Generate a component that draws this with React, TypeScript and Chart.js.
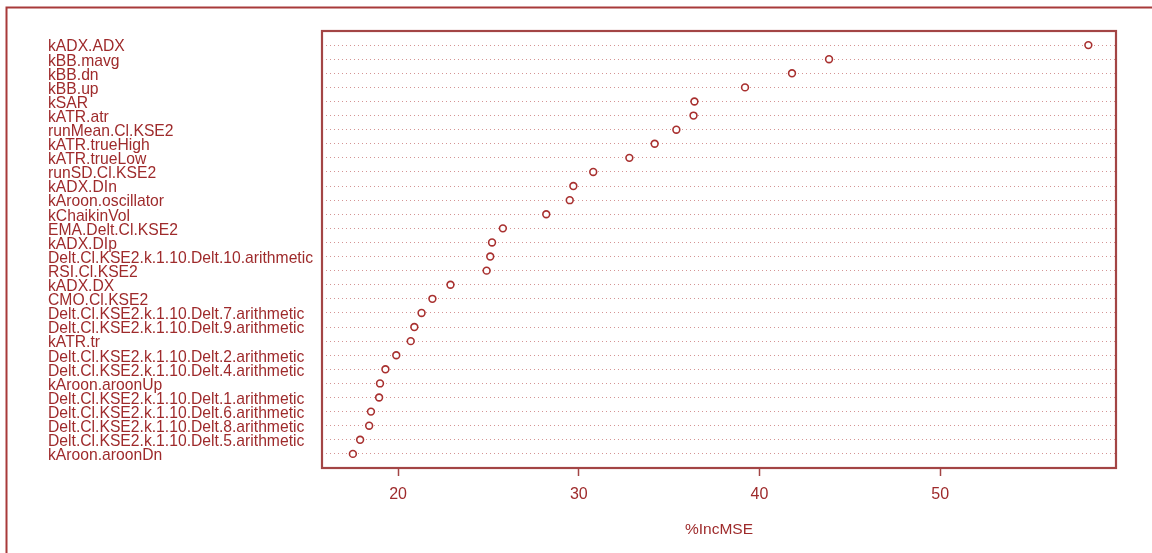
import React, { useEffect, useRef } from "react";
import { Chart, registerables } from "chart.js";

Chart.register(...registerables);

const variableNames: string[] = [
  "kADX.ADX",
  "kBB.mavg",
  "kBB.dn",
  "kBB.up",
  "kSAR",
  "kATR.atr",
  "runMean.Cl.KSE2",
  "kATR.trueHigh",
  "kATR.trueLow",
  "runSD.Cl.KSE2",
  "kADX.DIn",
  "kAroon.oscillator",
  "kChaikinVol",
  "EMA.Delt.Cl.KSE2",
  "kADX.DIp",
  "Delt.Cl.KSE2.k.1.10.Delt.10.arithmetic",
  "RSI.Cl.KSE2",
  "kADX.DX",
  "CMO.Cl.KSE2",
  "Delt.Cl.KSE2.k.1.10.Delt.7.arithmetic",
  "Delt.Cl.KSE2.k.1.10.Delt.9.arithmetic",
  "kATR.tr",
  "Delt.Cl.KSE2.k.1.10.Delt.2.arithmetic",
  "Delt.Cl.KSE2.k.1.10.Delt.4.arithmetic",
  "kAroon.aroonUp",
  "Delt.Cl.KSE2.k.1.10.Delt.1.arithmetic",
  "Delt.Cl.KSE2.k.1.10.Delt.6.arithmetic",
  "Delt.Cl.KSE2.k.1.10.Delt.8.arithmetic",
  "Delt.Cl.KSE2.k.1.10.Delt.5.arithmetic",
  "kAroon.aroonDn",
];

const incMSE: number[] = [
  58.2, 43.85, 41.8, 39.2, 36.4, 36.35, 35.4, 34.2, 32.8, 30.8, 29.7, 29.5,
  28.2, 25.8, 25.2, 25.1, 24.9, 22.9, 21.9, 21.3, 20.9, 20.7, 19.9, 19.3,
  19.0, 18.95, 18.5, 18.4, 17.9, 17.5,
];

const xTickValues: number[] = [20, 30, 40, 50];
const xAxisTitle = "%IncMSE";

const RED_TEXT = "#9E2A2B";
const RED_BOX = "#A34545";
const RED_POINT = "#A8302F";
const GRID_DOTS = "#D49494";
const FONT = '"Liberation Sans", Arial, Helvetica, sans-serif';

export default function App() {
  const canvasRef = useRef<HTMLCanvasElement | null>(null);

  useEffect(() => {
    const canvas = canvasRef.current;
    if (!canvas) return;
    const n = variableNames.length;
    // rows: first name at y = n, last at y = 1
    const points = incMSE.map((v, i) => ({ x: v, y: n - i }));
    const rowLabel = (val: number) => {
      if (val >= 1 && val <= n && Number.isInteger(val)) return variableNames[n - val];
      return "";
    };

    const framePlugin = {
      id: "frames",
      afterDraw(chart: any) {
        const { ctx, chartArea } = chart;
        ctx.save();
        ctx.strokeStyle = RED_BOX;
        ctx.lineWidth = 2.2;
        ctx.strokeRect(
          chartArea.left,
          chartArea.top,
          chartArea.right - chartArea.left,
          chartArea.bottom - chartArea.top
        );
        // outer frame (top and left edges)
        ctx.strokeStyle = "#A83A3A";
        ctx.lineWidth = 2;
        ctx.beginPath();
        ctx.moveTo(6.5, 553);
        ctx.lineTo(6.5, 7.5);
        ctx.lineTo(1152, 7.5);
        ctx.stroke();
        ctx.restore();
      },
    };

    const chart = new Chart(canvas, {
      type: "scatter",
      data: {
        datasets: [
          {
            data: points,
            pointStyle: "circle",
            pointRadius: 3.4,
            pointBorderWidth: 1.6,
            pointBackgroundColor: "#ffffff",
            pointBorderColor: RED_POINT,
            showLine: false,
          },
        ],
      },
      options: {
        animation: false,
        responsive: false,
        maintainAspectRatio: false,
        layout: { padding: { top: 31, right: 36, left: 48, bottom: 0 } },
        plugins: {
          legend: { display: false },
          tooltip: { enabled: false },
        },
        scales: {
          x: {
            type: "linear",
            min: 15.79,
            max: 59.73,
            afterBuildTicks: (scale: any) => {
              scale.ticks = xTickValues.map((v) => ({ value: v }));
            },
            afterFit: (scale: any) => {
              scale.height = 85;
            },
            border: { display: false },
            grid: {
              drawOnChartArea: false,
              drawTicks: true,
              tickLength: 8,
              tickColor: RED_BOX,
              tickWidth: 1.5,
            },
            ticks: {
              color: RED_TEXT,
              font: { family: FONT, size: 16 },
              padding: 9,
              maxRotation: 0,
              autoSkip: false,
            },
            title: {
              display: true,
              text: xAxisTitle,
              color: RED_TEXT,
              font: { family: FONT, size: 15.5 },
              padding: { top: 0, bottom: 14 },
            },
          },
          y: {
            type: "linear",
            min: 0,
            max: n + 1,
            afterBuildTicks: (scale: any) => {
              const t: { value: number }[] = [];
              for (let v = 0; v <= n + 1; v++) t.push({ value: v });
              scale.ticks = t;
            },
            afterFit: (scale: any) => {
              scale.width = 322 - 48;
            },
            border: { display: false, dash: [1, 3] },
            grid: {
              drawTicks: false,
              lineWidth: 1,
              color: (ctx: any) => {
                const v = ctx.tick ? ctx.tick.value : 0;
                return v <= 0 || v >= n + 1 ? "rgba(0,0,0,0)" : GRID_DOTS;
              },
            },
            ticks: {
              autoSkip: false,
              crossAlign: "far",
              padding: 0,
              labelOffset: 2,
              color: RED_TEXT,
              font: { family: FONT, size: 15.7, lineHeight: 1 },
              callback: (value: any) => rowLabel(Number(value)),
            },
          },
        },
      } as any,
      plugins: [framePlugin],
    });

    return () => chart.destroy();
  }, []);

  return (
    <div
      style={{
        position: "fixed",
        left: 0,
        top: 0,
        width: 1152,
        height: 553,
        background: "#ffffff",
      }}
    >
      <canvas ref={canvasRef} width={1152} height={553} />
    </div>
  );
}
